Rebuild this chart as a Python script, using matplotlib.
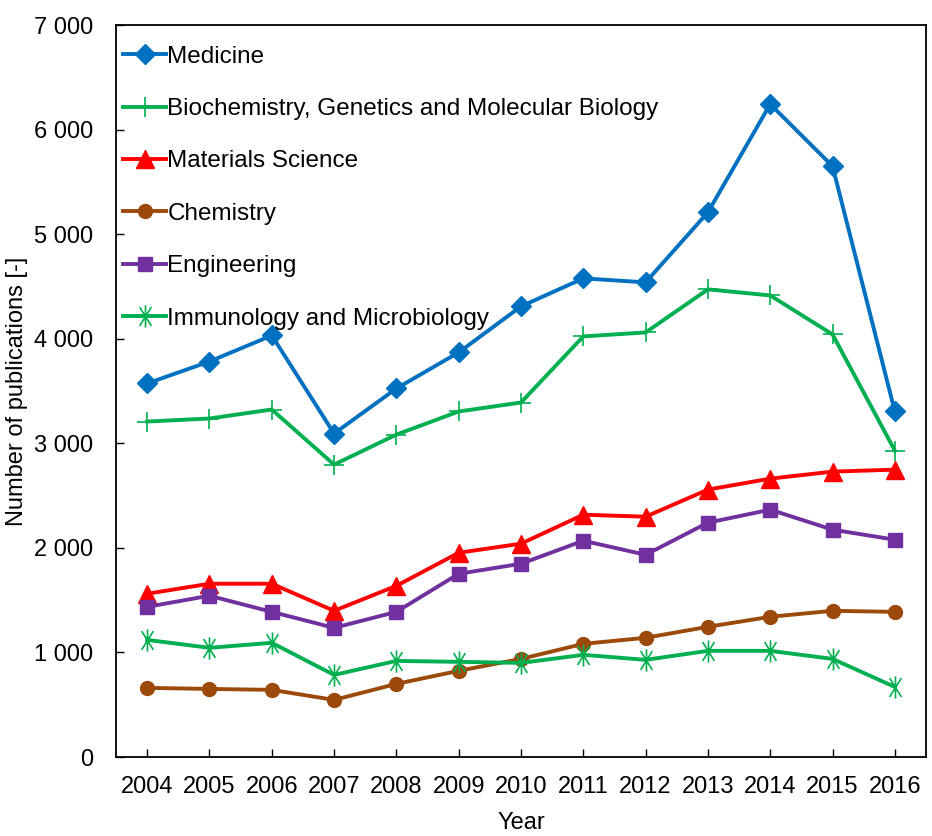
import matplotlib
matplotlib.use("Agg")
import matplotlib.pyplot as plt
import numpy as np
from matplotlib.path import Path
from matplotlib.ticker import FuncFormatter, MultipleLocator

plt.rcParams['font.family'] = ['Liberation Sans', 'DejaVu Sans']

years = ["2004", "2005", "2006", "2007", "2008", "2009", "2010",
         "2011", "2012", "2013", "2014", "2015", "2016"]
medicine = [3572, 3782, 4031, 3093, 3524, 3869, 4309, 4577, 4539, 5209, 6243, 5650, 3304]
biochem = [3208, 3237, 3323, 2796, 3083, 3304, 3390, 4022, 4060, 4472, 4414, 4041, 2930]
materials = [1561, 1657, 1657, 1398, 1637, 1953, 2040, 2317, 2298, 2557, 2662, 2729, 2748]
chemistry = [661, 651, 642, 546, 699, 824, 938, 1082, 1140, 1245, 1341, 1398, 1388]
engineering = [1436, 1542, 1388, 1235, 1388, 1752, 1848, 2068, 1934, 2241, 2365, 2174, 2078]
immunology = [1120, 1044, 1092, 785, 919, 910, 900, 977, 929, 1015, 1015, 938, 670]

labels = ["Medicine", "Biochemistry, Genetics and Molecular Biology", "Materials Science",
          "Chemistry", "Engineering", "Immunology and Microbiology"]

# asterisk marker: vertical line plus X
a = np.deg2rad(58)
ast = Path([(0, -1), (0, 1),
            (-np.cos(a), -np.sin(a)), (np.cos(a), np.sin(a)),
            (-np.cos(a), np.sin(a)), (np.cos(a), -np.sin(a))],
           [Path.MOVETO, Path.LINETO, Path.MOVETO, Path.LINETO, Path.MOVETO, Path.LINETO])

fig = plt.figure(figsize=(9.32, 8.36), dpi=100)
ax = fig.add_axes([116/932, 79/836, 810/932, 732/836])

x = np.arange(len(years))
lw = 2.8
ax.plot(x, medicine, color='#0070C0', lw=lw, marker='D', ms=10.5, label=labels[0])
ax.plot(x, biochem, color='#00B050', lw=lw, marker='+', ms=15, mew=1.2, label=labels[1])
ax.plot(x, materials, color='#FF0000', lw=lw, marker='^', ms=13, label=labels[2])
ax.plot(x, chemistry, color='#9C4A0B', lw=lw, marker='o', ms=10, label=labels[3])
ax.plot(x, engineering, color='#7030A0', lw=lw, marker='s', ms=10, label=labels[4])
ax.plot(x, immunology, color='#00B050', lw=lw, marker=ast, ms=16, mew=1.2, label=labels[5])

ax.set_xlim(-0.5, len(years) - 0.5)
ax.set_ylim(0, 7000)
ax.set_xticks(x)
ax.set_xticklabels(years)
ax.yaxis.set_major_locator(MultipleLocator(1000))
ax.yaxis.set_major_formatter(FuncFormatter(lambda v, p: f"{int(v):,}".replace(",", " ")))
ax.tick_params(axis='both', direction='in', length=6, width=1, labelsize=17)
ax.tick_params(axis='x', pad=13.5)
ax.tick_params(axis='y', pad=16.5)
for s in ax.spines.values():
    s.set_linewidth(1.3)

ax.set_xlabel("Year", fontsize=17, labelpad=10)
ax.set_ylabel("Number of publications [-]", fontsize=17, labelpad=4)

ax.legend(loc='upper left', bbox_to_anchor=(0.003, 0.9785), borderaxespad=0,
          frameon=False, fontsize=17.5, handlelength=1.75,
          handletextpad=0.06, labelspacing=1.25, borderpad=0.2)

fig.savefig("out.png", dpi=100)
